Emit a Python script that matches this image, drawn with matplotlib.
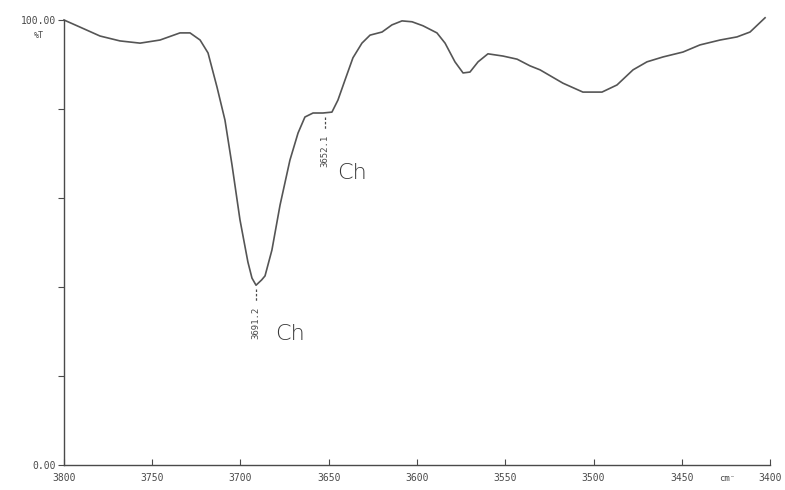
import matplotlib
matplotlib.use("Agg")
import matplotlib.pyplot as plt

# IR spectrum
wavenumber = [3800.0, 3790.9, 3779.6, 3768.3, 3756.9, 3745.6, 3734.3, 3728.6, 3722.9,
              3718.4, 3713.3, 3708.8, 3704.8, 3700.3, 3695.8, 3693.5, 3691.2, 3688.0,
              3686.1, 3682.2, 3677.6, 3672.0, 3667.4, 3663.5, 3658.9, 3653.3, 3648.2,
              3644.8, 3640.8, 3636.3, 3631.2, 3626.6, 3619.8, 3614.2, 3608.5, 3602.8,
              3596.6, 3588.7, 3584.1, 3578.5, 3573.9, 3570.0, 3565.4, 3559.8, 3551.3,
              3543.3, 3536.0, 3530.3, 3517.3, 3506.0, 3495.2, 3486.7, 3477.6, 3469.7,
              3460.6, 3449.3, 3439.7, 3428.3, 3418.7, 3411.3, 3402.8]
transmittance = [100.0, 98.4, 96.4, 95.3, 94.8, 95.5, 97.1, 97.1, 95.5,
                 92.6, 84.9, 77.5, 67.4, 55.1, 45.6, 42.0, 40.4, 41.6,
                 42.5, 48.3, 58.4, 68.5, 74.6, 78.2, 79.1, 79.1, 79.3,
                 82.0, 86.5, 91.5, 94.8, 96.6, 97.3, 98.9, 99.8, 99.6,
                 98.7, 97.1, 94.8, 90.6, 88.1, 88.3, 90.6, 92.4, 91.9,
                 91.2, 89.7, 88.8, 85.8, 83.8, 83.8, 85.4, 88.8, 90.6,
                 91.7, 92.8, 94.4, 95.5, 96.2, 97.3, 100.5]

peak_pos = [3691.2, 3652.1]
peak_val = [40.4, 79.1]
peak_text = ["3691.2", "3652.1"]
peak_note = ["Ch", "Ch"]

x_ticks = [3800, 3750, 3700, 3650, 3600, 3550, 3500, 3450, 3400]
x_labels = ["3800", "3750", "3700", "3650", "3600", "3550", "3500", "3450", "3400"]
y_ticks = [0, 20, 40, 60, 80, 100]
y_labels = ["0.00", "", "", "", "", "100.00"]

ink = "#4a4a4a"
mono = "DejaVu Sans Mono"

fig = plt.figure(figsize=(7.85, 4.9), dpi=100)
ax = fig.add_axes([64 / 785, 25 / 490, 706 / 785, 445 / 490])
ax.plot(wavenumber, transmittance, color="#555555", lw=1.2, clip_on=False,
        solid_joinstyle="round")

ax.set_xlim(3800, 3400)
ax.set_ylim(0, 100)
ax.spines["top"].set_visible(False)
ax.spines["right"].set_visible(False)
for s in ("left", "bottom"):
    ax.spines[s].set_color(ink)
    ax.spines[s].set_linewidth(1.0)

ax.set_xticks(x_ticks)
ax.set_xticklabels(x_labels, fontfamily=mono, fontsize=7, color=ink)
ax.set_yticks(y_ticks)
ax.set_yticklabels(y_labels, fontfamily=mono, fontsize=7, color=ink)
ax.tick_params(axis="x", direction="in", length=4, color=ink, pad=6)
ax.tick_params(axis="y", direction="out", length=4, color=ink, pad=2)

ax.text(-0.035, 0.965, "%T", transform=ax.transAxes, fontfamily=mono,
        fontsize=6, color=ink, ha="center", va="center")
ax.text(3424, -0.03, "cm⁻", transform=ax.get_xaxis_transform(), fontfamily=mono,
        fontsize=6.5, color=ink, ha="center", va="center")

# peak markers: dashed tick under the peak, rotated wavenumber
for pos, val, txt in zip(peak_pos, peak_val, peak_text):
    ax.plot([pos, pos], [val - 0.8, val - 3.8], color=ink, lw=0.9, ls=(0, (2, 1.5)))
    ax.text(pos, val - 4.8, txt, rotation=90, fontfamily=mono, fontsize=6.5,
            color=ink, ha="center", va="top")

# handwritten notes beside each label
note_dx = [-11, -7]
note_dy = [-11, -13.5]
for pos, val, note, dx, dy in zip(peak_pos, peak_val, peak_note, note_dx, note_dy):
    ax.text(pos + dx, val + dy, note, fontfamily="DejaVu Sans", fontsize=16,
            fontweight="light", color="#3a3a3a", ha="left", va="center")

fig.savefig("out.png", dpi=100, facecolor="white")
